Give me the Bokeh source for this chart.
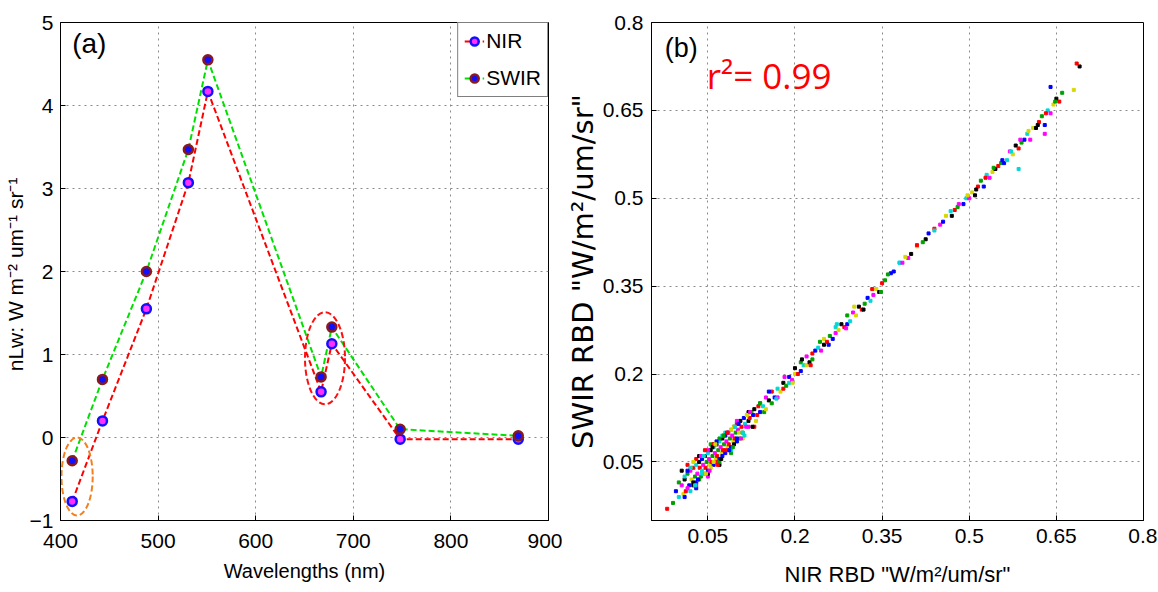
from bokeh.plotting import figure
from bokeh.layouts import row
from bokeh.models import Legend, LegendItem, Label, FixedTicker, Range1d
from bokeh.embed import file_html
from bokeh.resources import INLINE

# ---------------- data: panel (a) ----------------
wavelengths = [412, 443, 488, 531, 551, 667, 678, 748, 869]
nlw_nir = [-0.77, 0.20, 1.55, 3.07, 4.17, 0.55, 1.13, -0.02, -0.02]
nlw_swir = [-0.28, 0.70, 2.00, 3.47, 4.55, 0.73, 1.33, 0.10, 0.02]

ell_x = [417, 671]
ell_y = [-0.47, 0.955]
ell_w = [32, 41]
ell_h = [0.94, 1.11]
ell_colors = ["#f08020", "#ff1010"]

x_ticks_a = [400, 500, 600, 700, 800, 900]
y_ticks_a = [-1, 0, 1, 2, 3, 4, 5]

# ---------------- data: panel (b) ----------------
rbd_nir = [
    -0.02, -0.01, -0.005, 0.0, 0.005, 0.008, 0.01, 0.012, 0.015, 0.018,
    0.02, 0.02, 0.022, 0.025, 0.025, 0.028, 0.03, 0.03, 0.032, 0.034,
    0.035, 0.036, 0.038, 0.04, 0.04, 0.042, 0.044, 0.045, 0.046, 0.048,
    0.05, 0.05, 0.052, 0.054, 0.055, 0.056, 0.058, 0.06, 0.06, 0.062,
    0.064, 0.065, 0.066, 0.068, 0.07, 0.07, 0.072, 0.074, 0.075, 0.076,
    0.078, 0.08, 0.08, 0.082, 0.084, 0.085, 0.086, 0.088, 0.09, 0.09,
    0.092, 0.094, 0.095, 0.096, 0.098, 0.1, 0.1, 0.102, 0.104, 0.106,
    0.108, 0.11, 0.112, 0.114, 0.116, 0.118, 0.12, 0.122, 0.125, 0.128,
    0.01, 0.015, 0.02, 0.025, 0.03, 0.035, 0.04, 0.045, 0.05, 0.055,
    0.06, 0.065, 0.07, 0.075, 0.08, 0.085, 0.09, 0.095, 0.1, 0.105,
    0.03, 0.04, 0.05, 0.06, 0.07, 0.08, 0.09, 0.1, 0.11, 0.12,
    0.025, 0.035, 0.045, 0.055, 0.065, 0.075, 0.085, 0.095, 0.005, 0.015,
    0.0, 0.01, 0.02, 0.03, 0.04, 0.05, 0.06, 0.07, 0.08, 0.09,
    0.1, 0.11, 0.12, 0.13, 0.14, 0.015, 0.028, 0.038, 0.047, 0.058,
    0.067, 0.077, 0.087, 0.097, 0.107, 0.117, 0.127, 0.137, 0.147, 0.033,
    0.043, 0.053, 0.063, 0.073, 0.083, 0.093, 0.103, 0.113, 0.123, 0.133,
    0.13, 0.135, 0.14, 0.14, 0.145, 0.15, 0.15, 0.155, 0.16, 0.16,
    0.165, 0.17, 0.17, 0.175, 0.18, 0.18, 0.185, 0.19, 0.19, 0.195,
    0.2, 0.2, 0.205, 0.21, 0.21, 0.215, 0.22, 0.22, 0.225, 0.23,
    0.23, 0.235, 0.24, 0.245, 0.25, 0.25, 0.255, 0.26, 0.265, 0.27,
    0.27, 0.275, 0.28, 0.285, 0.29, 0.29, 0.295, 0.3, 0.305, 0.31,
    0.315, 0.32, 0.325, 0.33, 0.335, 0.34, 0.345, 0.35, 0.355,
    0.155, 0.168, 0.182, 0.196, 0.212, 0.227, 0.243, 0.258, 0.272, 0.288,
    0.302, 0.318, 0.333, 0.348, 0.365, 0.38, 0.395, 0.41, 0.425, 0.44,
    0.36, 0.37, 0.38, 0.385, 0.39, 0.4, 0.41, 0.42, 0.43, 0.44,
    0.45, 0.46, 0.47, 0.475, 0.48, 0.49, 0.495, 0.5, 0.505, 0.51,
    0.515, 0.52, 0.525, 0.53, 0.535, 0.54, 0.545, 0.55, 0.555, 0.56,
    0.565, 0.57, 0.575, 0.58, 0.585, 0.59, 0.595, 0.6, 0.605, 0.61,
    0.615, 0.62, 0.625, 0.63, 0.635, 0.64, 0.645, 0.65, 0.655, 0.66,
    0.455, 0.468, 0.482, 0.497, 0.512, 0.528, 0.542, 0.557, 0.572, 0.588,
    0.602, 0.618, 0.632, 0.648, 0.64,
    0.585, 0.63, 0.68, 0.69, 0.685,
]
rbd_swir = [
    -0.03, -0.02, 0.0, -0.01, 0.01, -0.005, 0.02, 0.0, 0.03, 0.01,
    0.0, 0.035, 0.02, 0.01, 0.04, 0.025, 0.015, 0.045, 0.03, 0.02,
    0.05, 0.04, 0.025, 0.055, 0.035, 0.045, 0.03, 0.06, 0.04, 0.05,
    0.035, 0.065, 0.055, 0.045, 0.07, 0.05, 0.06, 0.045, 0.075, 0.065,
    0.055, 0.08, 0.06, 0.07, 0.055, 0.085, 0.075, 0.065, 0.09, 0.07,
    0.08, 0.065, 0.095, 0.085, 0.075, 0.1, 0.08, 0.09, 0.075, 0.105,
    0.095, 0.085, 0.11, 0.09, 0.1, 0.085, 0.115, 0.105, 0.1, 0.12,
    0.11, 0.1, 0.125, 0.115, 0.11, 0.13, 0.12, 0.125, 0.135, 0.13,
    0.025, 0.005, 0.04, 0.015, 0.055, 0.02, 0.06, 0.03, 0.07, 0.04,
    0.08, 0.05, 0.09, 0.06, 0.1, 0.07, 0.105, 0.08, 0.115, 0.09,
    0.005, 0.03, 0.025, 0.05, 0.045, 0.07, 0.065, 0.09, 0.1, 0.11,
    0.05, 0.06, 0.07, 0.08, 0.085, 0.095, 0.1, 0.11, 0.035, 0.045,
    0.015, -0.01, 0.04, 0.01, 0.06, 0.03, 0.08, 0.05, 0.095, 0.07,
    0.12, 0.09, 0.135, 0.11, 0.15, 0.035, 0.01, 0.06, 0.03, 0.075,
    0.045, 0.095, 0.07, 0.11, 0.09, 0.13, 0.11, 0.145, 0.135, 0.02,
    0.06, 0.035, 0.08, 0.055, 0.1, 0.075, 0.115, 0.095, 0.135, 0.12,
    0.14, 0.13, 0.15, 0.135, 0.145, 0.16, 0.14, 0.155, 0.17, 0.15,
    0.16, 0.175, 0.16, 0.17, 0.185, 0.175, 0.18, 0.195, 0.185, 0.19,
    0.2, 0.21, 0.2, 0.22, 0.205, 0.215, 0.23, 0.215, 0.22, 0.235,
    0.225, 0.24, 0.245, 0.24, 0.26, 0.25, 0.255, 0.265, 0.26, 0.28,
    0.27, 0.275, 0.285, 0.28, 0.3, 0.285, 0.29, 0.305, 0.3, 0.315,
    0.31, 0.32, 0.33, 0.325, 0.335, 0.345, 0.34, 0.355, 0.36,
    0.17, 0.158, 0.195, 0.185, 0.225, 0.215, 0.255, 0.25, 0.285, 0.278,
    0.315, 0.31, 0.345, 0.34, 0.372, 0.39, 0.398, 0.418, 0.43, 0.448,
    0.37, 0.375, 0.39, 0.39, 0.4, 0.405, 0.42, 0.425, 0.44, 0.445,
    0.455, 0.47, 0.47, 0.48, 0.485, 0.49, 0.5, 0.5, 0.51, 0.505,
    0.52, 0.53, 0.52, 0.54, 0.535, 0.545, 0.55, 0.555, 0.56, 0.56,
    0.565, 0.58, 0.575, 0.59, 0.585, 0.595, 0.6, 0.61, 0.6, 0.62,
    0.62, 0.63, 0.64, 0.625, 0.65, 0.645, 0.66, 0.67, 0.665, 0.68,
    0.46, 0.478, 0.49, 0.505, 0.515, 0.535, 0.552, 0.565, 0.58, 0.6,
    0.615, 0.625, 0.645, 0.665, 0.69,
    0.55, 0.61, 0.685, 0.725, 0.73,
]
ticks_b = [0.05, 0.2, 0.35, 0.5, 0.65, 0.8]

palette = ["#ff0000", "#00a000", "#0000ff", "#00d8d8", "#ff00ff", "#d8d800", "#000000"]
point_colors = [palette[i % len(palette)] for i in range(len(rbd_nir))]

SANS = "Liberation Sans"


def style(p, xticks, yticks):
    p.outline_line_color = "black"
    p.outline_line_width = 1
    p.background_fill_color = "white"
    p.border_fill_color = "white"
    for ax in (p.xaxis, p.yaxis):
        ax.axis_line_color = "black"
        ax.major_tick_in = 5
        ax.major_tick_out = 0
        ax.minor_tick_line_color = None
        ax.major_tick_line_color = "black"
        ax.major_label_text_font = SANS
        ax.major_label_text_font_size = "21px"
        ax.major_label_text_color = "black"
        ax.axis_label_text_color = "black"
        ax.axis_label_text_font_style = "normal"
    p.xaxis.ticker = FixedTicker(ticks=xticks)
    p.yaxis.ticker = FixedTicker(ticks=yticks)
    for g in (p.xgrid, p.ygrid):
        g.grid_line_color = "#8a8a8a"
        g.grid_line_dash = "dotted"
        g.grid_line_width = 1
    p.xgrid.ticker = FixedTicker(ticks=xticks)
    p.ygrid.ticker = FixedTicker(ticks=yticks)


# ---------------- panel (a) ----------------
p1 = figure(width=562, height=591,
            x_range=Range1d(400, 900), y_range=Range1d(-1, 5),
            output_backend="svg", toolbar_location=None,
            min_border_left=58, min_border_right=14,
            min_border_top=22, min_border_bottom=66)
style(p1, x_ticks_a, y_ticks_a)
p1.xaxis.major_label_standoff = 13
p1.yaxis.major_label_standoff = 7
p1.xaxis.axis_label = "Wavelengths (nm)"
p1.xaxis.axis_label_text_font = SANS
p1.xaxis.axis_label_text_font_size = "20px"
p1.xaxis.axis_label_standoff = 9
p1.yaxis.axis_label = "nLw:  W m\u207b\u00b2 um\u207b\u00b9 sr\u207b\u00b9"
p1.yaxis.axis_label_text_font = SANS
p1.yaxis.axis_label_text_font_size = "21px"
p1.yaxis.axis_label_standoff = 0

l_nir = p1.line(wavelengths, nlw_nir, line_color="#ff0000", line_width=2, line_dash="6 3")
l_swir = p1.line(wavelengths, nlw_swir, line_color="#00e000", line_width=2, line_dash="6 3")
p1.ellipse(x=ell_x, y=ell_y, width=ell_w, height=ell_h, fill_alpha=0,
           line_color=ell_colors, line_width=2, line_dash="6 3")
s_nir = p1.scatter(wavelengths, nlw_nir, size=9, fill_color="#ff30ff",
                   line_color="#1010ff", line_width=2.5)
s_swir = p1.scatter(wavelengths, nlw_swir, size=9, fill_color="#1010ff",
                    line_color="#8b1a1a", line_width=2.5)

legend = Legend(items=[LegendItem(label="NIR", renderers=[l_nir, s_nir]),
                       LegendItem(label="SWIR", renderers=[l_swir, s_swir])],
                location="top_right")
legend.border_line_color = "black"
legend.border_line_width = 1
legend.background_fill_color = "white"
legend.background_fill_alpha = 1
legend.label_text_font = SANS
legend.label_text_font_size = "21px"
legend.label_text_color = "black"
legend.glyph_width = 20
legend.label_standoff = 2
legend.padding = 6
legend.spacing = 13
legend.margin = 0
p1.add_layout(legend)

p1.add_layout(Label(x=412, y=4.75, text="(a)", text_font=SANS,
                    text_font_size="28px", text_color="black",
                    text_baseline="alphabetic"))

# ---------------- panel (b) ----------------
p2 = figure(width=595, height=591,
            x_range=Range1d(-0.047, 0.8), y_range=Range1d(-0.05, 0.8),
            output_backend="svg", toolbar_location=None,
            min_border_left=88, min_border_right=14,
            min_border_top=21, min_border_bottom=71)
style(p2, ticks_b, ticks_b)
p2.xaxis.major_label_standoff = 8
p2.yaxis.major_label_standoff = 8
p2.xaxis.axis_label = "NIR RBD \"W/m\u00b2/um/sr\""
p2.xaxis.axis_label_text_font = SANS
p2.xaxis.axis_label_text_font_size = "22px"
p2.xaxis.axis_label_standoff = 16
p2.yaxis.axis_label = "SWIR RBD \"W/m\u00b2/um/sr\""
p2.yaxis.axis_label_text_font = "DejaVu Sans"
p2.yaxis.axis_label_text_font_size = "29px"
p2.yaxis.axis_label_standoff = 0

p2.scatter(rbd_nir, rbd_swir, size=3, marker="square",
           fill_color=point_colors, line_color=point_colors)

p2.add_layout(Label(x=-0.024, y=0.756, text="(b)", text_font=SANS,
                    text_font_size="27px", text_color="black",
                    text_baseline="alphabetic"))
p2.add_layout(Label(x=0.048, y=0.71, text="r\u00b2= 0.99", text_font="Open Sans",
                    text_font_size="35px", text_color="#ff0000",
                    text_baseline="alphabetic"))

layout = row(p1, p2)
open("out.html", "w").write(file_html(layout, INLINE))
